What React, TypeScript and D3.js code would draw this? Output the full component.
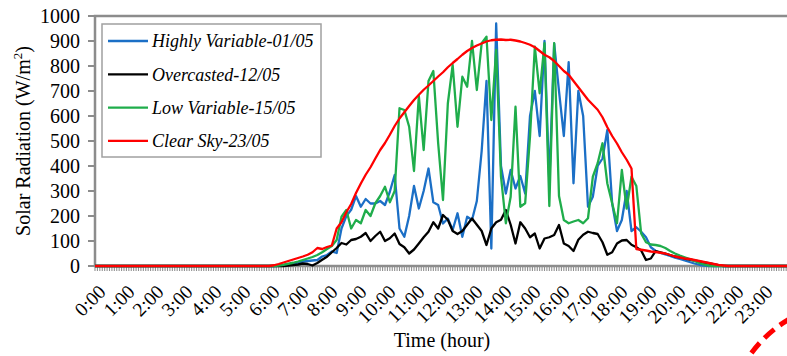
import React, { useRef, useEffect } from 'react';
import * as d3 from 'd3';

const hourLabels = ['0:00', '1:00', '2:00', '3:00', '4:00', '5:00', '6:00', '7:00', '8:00', '9:00', '10:00', '11:00',
  '12:00', '13:00', '14:00', '15:00', '16:00', '17:00', '18:00', '19:00', '20:00', '21:00', '22:00', '23:00'];
const yTicks = [0, 100, 200, 300, 400, 500, 600, 700, 800, 900, 1000];

const seriesNames = ['Highly Variable-01/05', 'Overcasted-12/05', 'Low Variable-15/05', 'Clear Sky-23/05'];
const seriesColors = ['#1b6fc6', '#000000', '#1fad4b', '#ff0000'];

// readings every 10 min from 6:00 to 22:00 (zero the rest of the day)
const firstHour = 6;
const stepHours = 1 / 6;

const highlyVariable = [
  0, 0, 1, 3, 6, 10,
  14, 18, 20, 22, 24, 38,
  44, 58, 52, 150, 200, 225,
  280, 237, 268, 250, 250, 260,
  244, 297, 364, 150, 117, 200,
  320, 230, 300, 390, 255, 244,
  170, 190, 144, 211, 117, 197,
  184, 260, 460, 740, 70, 970,
  400, 290, 384, 310, 360, 290,
  600, 700, 520, 900, 330, 890,
  700, 520, 815, 331, 700, 600,
  237, 277, 400, 430, 544, 250,
  140, 184, 300, 140, 155, 137,
  115, 75, 60, 52, 46, 40,
  33, 28, 22, 16, 10, 5,
  2, 0, 0, 0, 0, 0,
  0,
];

const overcasted = [
  0, 0, 0, 0, 2, 4,
  6, 10, 8, 2, 12, 25,
  37, 55, 72, 92, 86, 104,
  108, 117, 132, 100, 120, 137,
  100, 111, 130, 88, 75, 50,
  66, 90, 115, 137, 175, 150,
  204, 185, 140, 128, 140, 165,
  190, 165, 140, 84, 150, 175,
  185, 224, 165, 90, 175, 150,
  115, 130, 70, 110, 115, 124,
  164, 90, 80, 60, 105, 125,
  137, 132, 128, 95, 45, 55,
  90, 102, 104, 85, 75, 62,
  24, 30, 60, 55, 50, 44,
  38, 35, 30, 26, 22, 18,
  14, 11, 7, 3, 0, 0,
  0,
];

const lowVariable = [
  0, 0, 2, 5, 9, 13,
  18, 24, 30, 36, 44, 55,
  68, 80, 104, 197, 224, 150,
  184, 171, 224, 200, 251, 280,
  317, 255, 300, 631, 624, 557,
  380, 680, 464, 740, 780, 491,
  264, 650, 804, 557, 757, 717,
  900, 704, 891, 917, 584, 864,
  357, 171, 277, 637, 237, 251,
  517, 877, 691, 891, 240, 891,
  280, 184, 171, 178, 184, 171,
  191, 357, 411, 491, 330, 251,
  171, 384, 230, 357, 320, 130,
  95, 86, 84, 80, 72, 60,
  50, 42, 35, 28, 20, 12,
  6, 2, 0, 0, 0, 0,
  0,
];

const clearSky = [
  0, 3, 8, 14, 20, 26,
  32, 38, 45, 55, 72, 68,
  76, 82, 150, 175, 215, 248,
  292, 330, 365, 395, 430, 464,
  492, 525, 560, 590, 615, 640,
  664, 685, 705, 722, 740, 758,
  775, 795, 812, 828, 845, 860,
  872, 882, 890, 898, 903, 905,
  906, 904, 905, 902, 898, 892,
  885, 875, 860, 845, 835, 820,
  800, 780, 765, 740, 715, 690,
  665, 645, 625, 595, 555, 520,
  490, 455, 425, 390, 68, 65,
  62, 58, 56, 53, 50, 44,
  38, 34, 30, 28, 24, 20,
  16, 12, 8, 4, 2, 0,
  0,
];

const allSeries = [highlyVariable, overcasted, lowVariable, clearSky];

const W = 787;
const H = 356;
const margin = { top: 16, right: -4, bottom: 90, left: 95 };
const serif = '"Liberation Serif", "Times New Roman", serif';
const axisGray = '#8c8c8c';

const SolarChart = () => {
  const svgRef = useRef<SVGSVGElement>(null);

  useEffect(() => {
    document.body.style.margin = '0';
    const svg = d3.select(svgRef.current);
    svg.selectAll('*').remove();

    const x = d3.scaleLinear().domain([0, 24]).range([margin.left, W - margin.right]);
    const y = d3.scaleLinear().domain([0, 1000]).range([H - margin.bottom, margin.top]);

    // plot frame
    svg.append('rect')
      .attr('x', x(0)).attr('y', y(1000))
      .attr('width', x(24) - x(0)).attr('height', y(0) - y(1000))
      .attr('fill', 'none').attr('stroke', axisGray).attr('stroke-width', 2.5);

    // dense 5-min ticks
    const fine = d3.range(0, 24 * 12 + 1).map(i => i / 12);
    svg.append('g').selectAll('line').data(fine).enter().append('line')
      .attr('x1', d => x(d)).attr('x2', d => x(d))
      .attr('y1', y(0)).attr('y2', y(0) + 5)
      .attr('stroke', '#8f8f8f').attr('stroke-width', 1.1);

    // y axis ticks and labels
    svg.append('g').selectAll('line').data(yTicks).enter().append('line')
      .attr('x1', x(0) - 7).attr('x2', x(0))
      .attr('y1', d => y(d)).attr('y2', d => y(d))
      .attr('stroke', axisGray).attr('stroke-width', 2);
    svg.append('g').selectAll('text').data(yTicks).enter().append('text')
      .attr('x', 80).attr('y', d => y(d))
      .attr('dy', '0.35em')
      .attr('text-anchor', 'end')
      .attr('font-family', serif).attr('font-size', 20)
      .text(d => d);

    // hour labels
    svg.append('g').selectAll('text').data(hourLabels).enter().append('text')
      .attr('text-anchor', 'end')
      .attr('transform', (d, i) => `translate(${x(i) + 12},${y(0) + 27}) rotate(-45)`)
      .attr('font-family', serif).attr('font-size', 19.5)
      .text(d => d);

    // series lines
    const line = d3.line<[number, number]>().x(d => x(d[0])).y(d => y(d[1]));
    allSeries.forEach((vals, si) => {
      const pts: [number, number][] = [[0, 0]];
      vals.forEach((v, i) => pts.push([firstHour + i * stepHours, v]));
      pts.push([24, 0]);
      svg.append('path')
        .attr('d', line(pts))
        .attr('fill', 'none')
        .attr('stroke', seriesColors[si])
        .attr('stroke-width', 2.3)
        .attr('stroke-linejoin', 'round');
    });

    // legend
    const lg = svg.append('g');
    lg.append('rect')
      .attr('x', 102).attr('y', 24).attr('width', 219).attr('height', 133)
      .attr('fill', '#fff').attr('stroke', '#a0a0a0').attr('stroke-width', 1.5);
    seriesNames.forEach((name, i) => {
      const ly = 41 + i * 33.3;
      lg.append('line')
        .attr('x1', 108).attr('x2', 148).attr('y1', ly).attr('y2', ly)
        .attr('stroke', seriesColors[i]).attr('stroke-width', 2.3);
      lg.append('text')
        .attr('x', 152).attr('y', ly).attr('dy', '0.35em')
        .attr('font-family', serif).attr('font-size', 18).attr('font-style', 'italic')
        .text(name);
    });

    // axis titles
    const yt = svg.append('text')
      .attr('transform', `translate(30,141) rotate(-90)`)
      .attr('text-anchor', 'middle')
      .attr('font-family', serif).attr('font-size', 20);
    yt.append('tspan').text('Solar Radiation (W/m');
    yt.append('tspan').attr('font-size', 13).attr('dy', -8).text('2');
    yt.append('tspan').attr('dy', 8).text(')');

    svg.append('text')
      .attr('x', 442).attr('y', 347)
      .attr('text-anchor', 'middle')
      .attr('font-family', serif).attr('font-size', 20)
      .text('Time (hour)');

    // red dashed annotation arc in the corner
    svg.append('circle')
      .attr('cx', 850).attr('cy', 425).attr('r', 122)
      .attr('fill', 'none').attr('stroke', '#ff0000')
      .attr('stroke-width', 5).attr('stroke-dasharray', '13 7');
  }, []);

  return <svg ref={svgRef} width={W} height={H} style={{ display: 'block', background: '#fff' }}></svg>;
};

export default function App() {
  return <SolarChart />;
}
